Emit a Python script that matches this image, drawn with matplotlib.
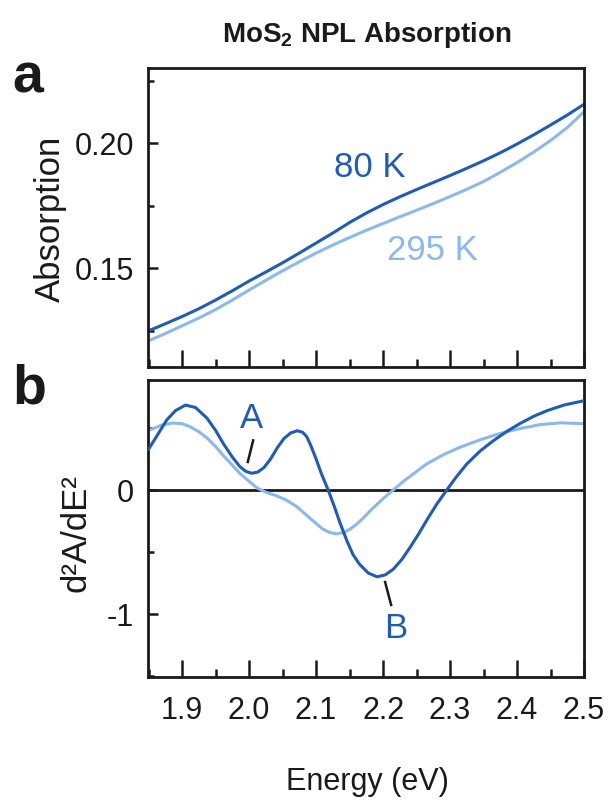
import matplotlib

matplotlib.use("Agg")
import matplotlib.pyplot as plt
from matplotlib.ticker import MultipleLocator, FormatStrFormatter

plt.rcParams["font.family"] = ["Liberation Sans", "DejaVu Sans"]
plt.rcParams["axes.unicode_minus"] = False
plt.rcParams["mathtext.fontset"] = "custom"
plt.rcParams["mathtext.rm"] = "Liberation Sans"
plt.rcParams["mathtext.bf"] = "Liberation Sans:bold"

DARK = "#1d5cbd"
LIGHT = "#8ab9ee"
INK = "#1a1a1a"

# absorption spectra (eV, absorbance)
abs_energy = [1.849, 1.875, 1.900, 1.925, 1.950, 1.975, 2.000, 2.025, 2.050, 2.075,
              2.100, 2.125, 2.150, 2.175, 2.200, 2.225, 2.250, 2.275, 2.300, 2.325,
              2.350, 2.375, 2.400, 2.425, 2.450, 2.475, 2.500]
abs_80k = [0.1248, 0.1277, 0.1306, 0.1337, 0.1372, 0.1409, 0.1448, 0.1484, 0.1521, 0.1560,
           0.1600, 0.1640, 0.1682, 0.1720, 0.1754, 0.1785, 0.1814, 0.1842, 0.1870, 0.1899,
           0.1929, 0.1961, 0.1996, 0.2033, 0.2072, 0.2112, 0.2155]
abs_295k = [0.1208, 0.1238, 0.1269, 0.1300, 0.1334, 0.1372, 0.1412, 0.1451, 0.1489, 0.1525,
            0.1560, 0.1592, 0.1622, 0.1651, 0.1678, 0.1705, 0.1731, 0.1758, 0.1786, 0.1815,
            0.1846, 0.1883, 0.1922, 0.1964, 0.2010, 0.2062, 0.2125]

# second derivative, 80 K
d2_energy_80k = [1.850, 1.865, 1.877, 1.890, 1.905, 1.920, 1.937, 1.950, 1.962, 1.975,
                 1.986, 1.995, 2.004, 2.013, 2.022, 2.032, 2.042, 2.052, 2.062, 2.072,
                 2.080, 2.086, 2.092, 2.100, 2.108, 2.118, 2.127, 2.136, 2.146, 2.155,
                 2.165, 2.178, 2.191, 2.203, 2.215, 2.228, 2.240, 2.253, 2.265, 2.280,
                 2.295, 2.310, 2.325, 2.345, 2.364, 2.384, 2.404, 2.425, 2.445, 2.470,
                 2.500]
d2_80k = [0.33, 0.46, 0.565, 0.64, 0.685, 0.665, 0.58, 0.48, 0.37, 0.265,
          0.19, 0.15, 0.135, 0.145, 0.18, 0.25, 0.34, 0.415, 0.46, 0.478,
          0.465, 0.43, 0.36, 0.25, 0.13, 0.0, -0.13, -0.27, -0.41, -0.52,
          -0.60, -0.67, -0.70, -0.685, -0.64, -0.56, -0.465, -0.355, -0.245, -0.115,
          0.0, 0.11, 0.21, 0.315, 0.395, 0.47, 0.535, 0.595, 0.64, 0.685,
          0.72]

# second derivative, 295 K
d2_energy_295k = [1.850, 1.870, 1.886, 1.900, 1.912, 1.925, 1.937, 1.950, 1.962, 1.975,
                  1.986, 2.000, 2.012, 2.025, 2.040, 2.055, 2.070, 2.085, 2.100, 2.110,
                  2.120, 2.130, 2.140, 2.150, 2.160, 2.170, 2.180, 2.190, 2.200, 2.215,
                  2.230, 2.250, 2.265, 2.290, 2.315, 2.345, 2.374, 2.404, 2.434, 2.465,
                  2.500]
d2_295k = [0.48, 0.525, 0.54, 0.535, 0.51, 0.47, 0.42, 0.35, 0.275, 0.20,
           0.135, 0.07, 0.016, -0.018, -0.045, -0.08, -0.13, -0.20, -0.27, -0.315,
           -0.342, -0.353, -0.345, -0.318, -0.278, -0.228, -0.172, -0.12, -0.07, 0.0,
           0.068, 0.15, 0.21, 0.285, 0.345, 0.405, 0.455, 0.495, 0.527, 0.542,
           0.535]

x_ticks = [1.9, 2.0, 2.1, 2.2, 2.3, 2.4, 2.5]

fig = plt.figure(figsize=(6.09, 8.07), dpi=100)
ax_abs = fig.add_axes([0.243, 0.5452, 0.716, 0.3705])
ax_d2 = fig.add_axes([0.243, 0.1611, 0.716, 0.368])

for ax in (ax_abs, ax_d2):
    for spine in ax.spines.values():
        spine.set_linewidth(2.0)
        spine.set_color(INK)
    ax.set_xlim(1.849, 2.5)
    ax.set_xticks(x_ticks)
    ax.xaxis.set_minor_locator(MultipleLocator(0.05))
    ax.tick_params(axis="x", which="major", direction="in", length=12, width=1.8)
    ax.tick_params(axis="x", which="minor", direction="in", length=6, width=1.8)
    ax.tick_params(axis="y", which="major", direction="in", length=7.5, width=1.8, pad=10)
    ax.tick_params(axis="y", which="minor", direction="in", length=4, width=1.8)
    ax.tick_params(which="both", colors=INK, labelsize=22)

# panel a
ax_abs.plot(abs_energy, abs_80k, color=DARK, lw=2.2)
ax_abs.plot(abs_energy, abs_295k, color=LIGHT, lw=2.2)
ax_abs.set_ylim(0.1104, 0.230)
ax_abs.yaxis.set_major_locator(MultipleLocator(0.05))
ax_abs.yaxis.set_minor_locator(MultipleLocator(0.025))
ax_abs.yaxis.set_major_formatter(FormatStrFormatter("%.2f"))
ax_abs.tick_params(axis="x", labelbottom=False)
ax_abs.text(2.18, 0.1904, "80 K", color=DARK, fontsize=25, ha="center", va="center")
ax_abs.text(2.274, 0.1572, "295 K", color=LIGHT, fontsize=25, ha="center", va="center")

# panel b
ax_d2.axhline(0, color=INK, lw=2.0, zorder=1)
ax_d2.plot(d2_energy_80k, d2_80k, color=DARK, lw=2.2, zorder=3)
ax_d2.plot(d2_energy_295k, d2_295k, color=LIGHT, lw=2.2, zorder=2)
ax_d2.set_ylim(-1.508, 0.887)
ax_d2.yaxis.set_major_locator(MultipleLocator(1))
ax_d2.yaxis.set_minor_locator(MultipleLocator(0.5))
ax_d2.yaxis.set_major_formatter(FormatStrFormatter("%d"))
ax_d2.tick_params(axis="x", pad=14)
ax_d2.text(2.004, 0.58, "A", color=DARK, fontsize=25, ha="center", va="center")
ax_d2.plot([2.006, 1.998], [0.40, 0.226], color=INK, lw=1.8)
ax_d2.text(2.219, -1.12, "B", color=DARK, fontsize=25, ha="center", va="center")
ax_d2.plot([2.203, 2.212], [-0.742, -0.927], color=INK, lw=1.8)

# labels
fig.text(0.603, 0.957, r"MoS$_\mathbf{2}$ NPL Absorption", fontsize=20,
         fontweight="bold", color=INK, ha="center", va="center")
fig.text(0.021, 0.885, "a", fontsize=40, fontweight="bold", color=INK, ha="left", va="baseline")
fig.text(0.021, 0.5006, "b", fontsize=40, fontweight="bold", color=INK, ha="left", va="baseline")
fig.text(0.082, 0.729, "Absorption", fontsize=25, color=INK,
         rotation=90, ha="center", va="center")
fig.text(0.124, 0.340, "d²A/dE²", fontsize=25, color=INK,
         rotation=90, ha="center", va="center")
fig.text(0.603, 0.031, "Energy (eV)", fontsize=22, color=INK, ha="center", va="center")

fig.savefig("out.png", dpi=100)
